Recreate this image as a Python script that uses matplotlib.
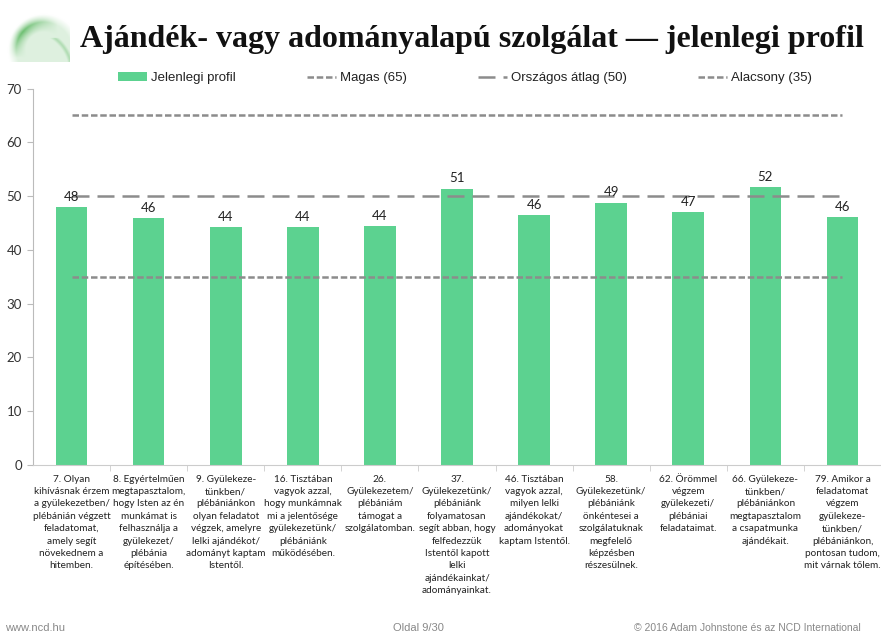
import matplotlib
matplotlib.use("Agg")
import matplotlib.pyplot as plt
from matplotlib.patches import Patch
import numpy as np

# values per item (bars) and the three reference levels
categories = [
    "7. Olyan\nkihívásnak érzem\na gyülekezetben/\nplébánián végzett\nfeladatomat,\namely segít\nnövekednem a\nhitemben.",
    "8. Egyértelműen\nmegtapasztalom,\nhogy Isten az én\nmunkámat is\nfelhasználja a\ngyülekezet/\nplébánia\népítésében.",
    "9. Gyülekeze-\ntünkben/\nplébániánkon\nolyan feladatot\nvégzek, amelyre\nlelki ajándékot/\nadományt kaptam\nIstentől.",
    "16. Tisztában\nvagyok azzal,\nhogy munkámnak\nmi a jelentősége\ngyülekezetünk/\nplébániánk\nműködésében.",
    "26.\nGyülekezetem/\nplébániám\ntámogat a\nszolgálatomban.",
    "37.\nGyülekezetünk/\nplébániánk\nfolyamatosan\nsegít abban, hogy\nfelfedezzük\nIstentől kapott\nlelki\najándékainkat/\nadományainkat.",
    "46. Tisztában\nvagyok azzal,\nmilyen lelki\najándékokat/\nadományokat\nkaptam Istentől.",
    "58.\nGyülekezetünk/\nplébániánk\nönkéntesei a\nszolgálatuknak\nmegfelelő\nképzésben\nrészesülnek.",
    "62. Örömmel\nvégzem\ngyülekezeti/\nplébániai\nfeladataimat.",
    "66. Gyülekeze-\ntünkben/\nplébániánkon\nmegtapasztalom\na csapatmunka\najándékait.",
    "79. Amikor a\nfeladatomat\nvégzem\ngyülekeze-\ntünkben/\nplébániánkon,\npontosan tudom,\nmit várnak tőlem.",
]
current = [48.0, 45.9, 44.2, 44.2, 44.4, 51.4, 46.4, 48.8, 47.0, 51.6, 46.1]
high = 65
national = 50
low = 35
yticks = [0, 10, 20, 30, 40, 50, 60, 70]

green = "#5cd290"
grey = "#8c8c8c"
txt = "#333333"
label_font = ["Lato", "DejaVu Sans"]
side_font = ["Liberation Sans", "DejaVu Sans"]

fig = plt.figure(figsize=(8.81, 6.36), dpi=100)
fig.patch.set_facecolor("white")

# green swoosh in the top-left corner
logo = fig.add_axes([0, 1 - 62 / 636, 70 / 881, 62 / 636])
gx, gy = np.meshgrid(np.linspace(0, 70, 140), np.linspace(62, 0, 124))
r = np.hypot(gx - 44, gy - 12)
disc = np.clip((36 - r) / 8, 0, 1)
rim = np.clip(1 - np.abs(r - 28) / 10, 0, 1)
lean = np.clip((58 - gx) / 40, 0, 1) * np.clip((gy - 4) / 26, 0, 1)
a = disc * (0.2 + 0.8 * rim * lean)
streak = np.clip(1 - np.abs(np.hypot(gx - 30, gy + 10) - 42) / 5, 0, 1) * np.clip((gx - 36) / 8, 0, 1) * (gy < 24)
a = np.clip(np.maximum(a, 0.5 * streak), 0, 1)
img = np.ones((124, 140, 3))
base = np.array([0.36, 0.72, 0.38])
for c in range(3):
    img[:, :, c] = 1 - a * (1 - base[c])
logo.imshow(img, aspect="auto", interpolation="bilinear")
logo.axis("off")

fig.text(0.091, 1 - 39 / 636, "Ajándék- vagy adományalapú szolgálat — jelenlegi profil",
         family="Liberation Serif", fontweight="bold", fontsize=23,
         color="#111111", va="center", ha="left")

ax = fig.add_axes([33 / 881, 1 - 465 / 636, 1 - 33 / 881, (465 - 88.5) / 636])
x = np.arange(len(categories))
ax.bar(x, current, width=0.41, color=green, zorder=2)
for xi, v in zip(x, current):
    ax.annotate(f"{v:.0f}", (xi, v), xytext=(0, 3), textcoords="offset points",
                ha="center", va="bottom", fontsize=9.5, color="#222222",
                family=label_font, zorder=4)

xl = [x[0], x[-1]]
l_high, = ax.plot(xl, [high, high], color=grey, lw=1.8, dashes=(2.6, 1.1), zorder=3)
l_nat, = ax.plot(xl, [national, national], color=grey, lw=1.8, dashes=(6.8, 3.2), zorder=3)
l_low, = ax.plot(xl, [low, low], color=grey, lw=1.8, dashes=(2.6, 1.1), zorder=3)

ax.set_xlim(-0.5, len(categories) - 0.5)
ax.set_ylim(0, 70)
ax.set_yticks(yticks)
ax.set_yticklabels([str(t) for t in yticks], fontsize=9.5, color=txt, family=label_font)
ax.tick_params(axis="y", length=4, color="#bbbbbb", pad=4)

ax.set_xticks(x)
ax.set_xticklabels(categories, fontsize=7.2, color="#222222", family=label_font,
                   linespacing=1.48, va="top")
ax.tick_params(axis="x", which="major", length=0, pad=7)
ax.set_xticks(np.arange(0.5, len(categories) - 0.5), minor=True)
ax.tick_params(axis="x", which="minor", length=4, color="#cccccc")

for s in ["top", "right"]:
    ax.spines[s].set_visible(False)
ax.spines["left"].set_color("#bbbbbb")
ax.spines["bottom"].set_color("#cccccc")

handles = [Patch(facecolor=green, edgecolor="none"), l_high, l_nat, l_low]
names = ["Jelenlegi profil", "Magas (65)", "Országos átlag (50)", "Alacsony (35)"]
fig.legend(handles, names, loc="center left", bbox_to_anchor=(106 / 881, 1 - 78 / 636),
           ncol=4, frameon=False, handlelength=2.2, handleheight=0.6, handletextpad=0.3,
           columnspacing=5.4, prop={"family": side_font, "size": 9.5},
           labelcolor="#222222")

# footer
fig.text(5 / 881, 1 - 628 / 636, "www.ncd.hu", fontsize=8, color="#888888",
         family=side_font, va="center")
fig.text(418 / 881, 1 - 628 / 636, "Oldal 9/30", fontsize=8, color="#888888",
         family=side_font, va="center", ha="center")
fig.text(634 / 881, 1 - 628 / 636, "© 2016 Adam Johnstone és az NCD International",
         fontsize=7.5, color="#888888", family=side_font, va="center")

fig.savefig("out.png", dpi=100)
